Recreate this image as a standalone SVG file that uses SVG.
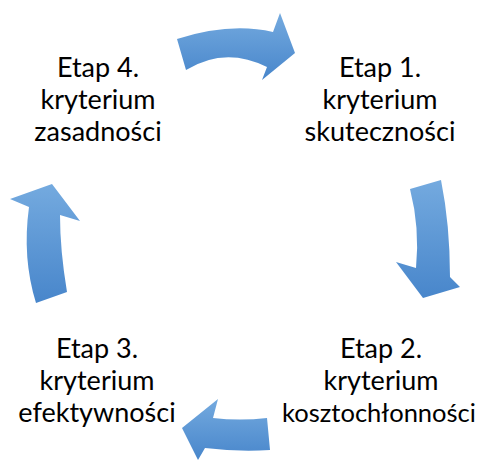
<svg xmlns="http://www.w3.org/2000/svg" width="482" height="465" viewBox="0 0 482 465">
<defs>
<linearGradient id="g" x1="0" y1="0" x2="0" y2="1">
<stop offset="0" stop-color="#74aadf"/>
<stop offset="1" stop-color="#4886cb"/>
</linearGradient>
<style>
.arrow{fill:url(#g);stroke:none}
.lbl{font-family:Lato,"Liberation Sans",sans-serif;font-size:27px;fill:#000;text-anchor:middle}
.lbl.tight{font-size:25.5px}
</style>
</defs>
<rect width="482" height="465" fill="#fff"/>
<g id="connectors">
<path id="arrow1" class="arrow" d="M177,39 Q230,22 273,32 L280,13 L295,53 L262,80 L267,67 Q225,46 186,70 Z"/>
<path id="arrow2" class="arrow" d="M410,189 L441,180 Q450,225 450,277 L460,287 L423,298 L396,262 L416,268 Q420,228 410,189 Z"/>
<path id="arrow3" class="arrow" d="M267,418 Q240,421 213,418 L218,399 L182,428 L198,460 L205,448 Q238,452 270,450 Z"/>
<path id="arrow4" class="arrow" d="M36,303 L67,292 Q60,250 60,215 L80,221 L52,184 L10,199 L29,207 Q22,258 36,303 Z"/>
</g>
<g id="node1">
<text class="lbl" x="380" y="77">Etap 1.</text>
<text class="lbl" x="380" y="109">kryterium</text>
<text class="lbl" x="380" y="141">skuteczności</text>
</g>
<g id="node2">
<text class="lbl" x="381" y="358">Etap 2.</text>
<text class="lbl" x="381" y="390">kryterium</text>
<text class="lbl tight" x="379" y="422">kosztochłonności</text>
</g>
<g id="node3">
<text class="lbl" x="97" y="358">Etap 3.</text>
<text class="lbl" x="97" y="390">kryterium</text>
<text class="lbl" x="97" y="422">efektywności</text>
</g>
<g id="node4">
<text class="lbl" x="98" y="77">Etap 4.</text>
<text class="lbl" x="98" y="109">kryterium</text>
<text class="lbl" x="98" y="141">zasadności</text>
</g>
</svg>
